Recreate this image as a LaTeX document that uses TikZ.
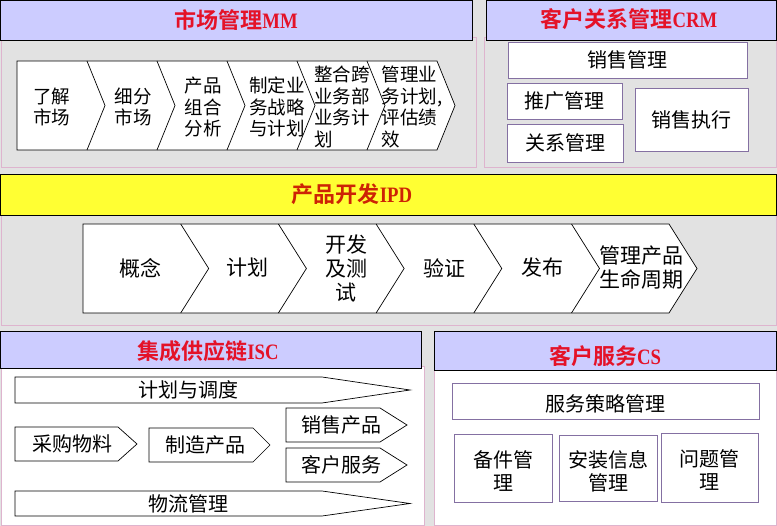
\documentclass[tikz,border=0pt]{standalone}
\usepackage{fontspec}
\setmainfont{Liberation Serif}
\newfontfamily\cjk{Noto Sans CJK SC}[BoldFont={Noto Sans CJK SC Bold}]
\newfontfamily\latn{Liberation Serif}[FakeStretch=0.85]

\definecolor{bg}{RGB}{226,226,226}
\definecolor{lav}{RGB}{204,204,255}
\definecolor{hdyellow}{RGB}{255,255,51}
\definecolor{pinkline}{RGB}{222,180,206}
\definecolor{boxpurple}{RGB}{132,112,162}
\definecolor{titlered}{RGB}{228,18,40}
\definecolor{ipdred}{RGB}{205,35,5}

\tikzset{
	header/.style={draw=black,line width=0.9pt},
	panel/.style={draw=pinkline,line width=0.8pt},
	shapeline/.style={draw=black,line width=0.7pt,fill=white},
	boxed/.style={draw=boxpurple,line width=0.8pt,fill=white},
	title/.style={text=titlered,inner sep=0pt,font=\fontsize{22}{24}\selectfont\bfseries},
	txt/.style={inner sep=0pt,align=center,font=\cjk\fontsize{20}{23}\selectfont},
}

\begin{document}
\begin{tikzpicture}[x=1pt,y=-1pt]
	\useasboundingbox (0,0) rectangle (777,526);
	\fill[bg] (0,0) rectangle (777,526);
	
	%market management
	\draw[panel,fill=bg] (1,37) rectangle (476,167);
	\draw[header,fill=lav] (0.5,0.5) rectangle (472,40);
	\node[title] (mm) at (236,20) {{\cjk 市场管理}{\latn MM}};
	\draw[shapeline] (17,61)--(437,61)--(455,105.5)--(437,150)--(17,150)--cycle;
	\foreach \i in {1,...,5}{
	\draw[line width=0.7pt] ({17+70*\i},61)--({35+70*\i},105.5)--({17+70*\i},150);
	}
	\foreach \x/\nm/\al/\txt in {52/know/center/{了解\\市场},133/segment/center/{细分\\市场},
		203/portfolio/center/{产品\\组合\\分析},277/strategy/center/{制定业\\务战略\\与计划},
		342/integrate/left/{整合跨\\业务部\\业务计\\划},412/manage/left/{管理业\\务计划,\\评估绩\\效}}{
	\node[txt,align=\al,font=\cjk\fontsize{18.5}{21.5}\selectfont] (mm-\nm) at (\x,107) {\txt};
	}
	
	%customer relationship management
	\draw[panel,fill=bg] (484,37) rectangle (776.5,167);
	\draw[header,fill=lav] (486,0.5) rectangle (776.5,40);
	\node[title] (crm) at (629,19) {{\cjk 客户关系管理}{\latn CRM}};
	\foreach \nm/\xa/\ya/\xb/\yb/\txt in {sales/508/42/747/78/销售管理,promo/507/83/622/119/推广管理,
		relation/507/124/623/162/关系管理,execute/635/88/748/151/销售执行}{
	\draw[boxed] (\xa,\ya) rectangle (\xb,\yb);
	\node[txt] (crm-\nm) at ({(\xa+\xb)/2},{(\ya+\yb)/2}) {\txt};
	}
	
	%product development
	\draw[panel,fill=bg] (1,213) rectangle (776.5,325);
	\draw[header,fill=hdyellow] (0.5,174) rectangle (776.5,215);
	\node[title,text=ipdred] (ipd) at (352,194) {{\cjk 产品开发}{\latn IPD}};
	\draw[shapeline] (83,224)--(669,224)--(697,268.5)--(669,313)--(83,313)--cycle;
	\foreach \i in {1,...,5}{
	\draw[line width=0.7pt] ({83+97.7*\i},224)--({111+97.7*\i},268.5)--({83+97.7*\i},313);
	}
	\foreach \x/\nm/\txt in {140/concept/概念,247/plan/计划,346/develop/{开发\\及测\\试},
		444/verify/验证,542/release/发布,641/lifecycle/{管理产品\\生命周期}}{
	\node[txt,font=\cjk\fontsize{21}{24}\selectfont] (ipd-\nm) at (\x,268) {\txt};
	}
	
	%integrated supply chain
	\draw[panel,fill=white] (1,366) rectangle (424,525.5);
	\draw[header,fill=lav] (0.5,331) rectangle (421,368);
	\node[title] (isc) at (208,351) {{\cjk 集成供应链}{\latn ISC}};
	\foreach \nm/\xa/\xb/\xc/\ya/\yb/\xt/\txt in {plan/15/322/410/377/403/188/计划与调度,
		buy/15/118/137/427/461/72/采购物料,make/149/253/270/428/462/205/制造产品,
		sell/286/380/407/408/442/341/销售产品,service/286/380/407/448/482/341/客户服务,
		logistics/15/322/410/491/516/188/物流管理}{
	\draw[shapeline] (\xa,\ya)--(\xb,\ya)--(\xc,{(\ya+\yb)/2})--(\xb,\yb)--(\xa,\yb)--cycle;
	\node[txt] (isc-\nm) at (\xt,{(\ya+\yb)/2}) {\txt};
	}
	
	%customer service
	\draw[panel,fill=white] (434,368) rectangle (776.5,525.5);
	\draw[header,fill=lav] (434,331) rectangle (776.5,370);
	\node[title] (cs) at (605,356) {{\cjk 客户服务}{\latn CS}};
	\foreach \nm/\xa/\ya/\xb/\yb/\txt in {strategy/452/383/759/419/服务策略管理,spare/454/434/552/502/{备件管\\理},
		install/559/435/657/501/{安装信息\\管理},problem/661/433/758/502/{问题管\\理}}{
	\draw[boxed] (\xa,\ya) rectangle (\xb,\yb);
	\node[txt] (cs-\nm) at ({(\xa+\xb)/2},{(\ya+\yb)/2+3}) {\txt};
	}
\end{tikzpicture}
\end{document}
